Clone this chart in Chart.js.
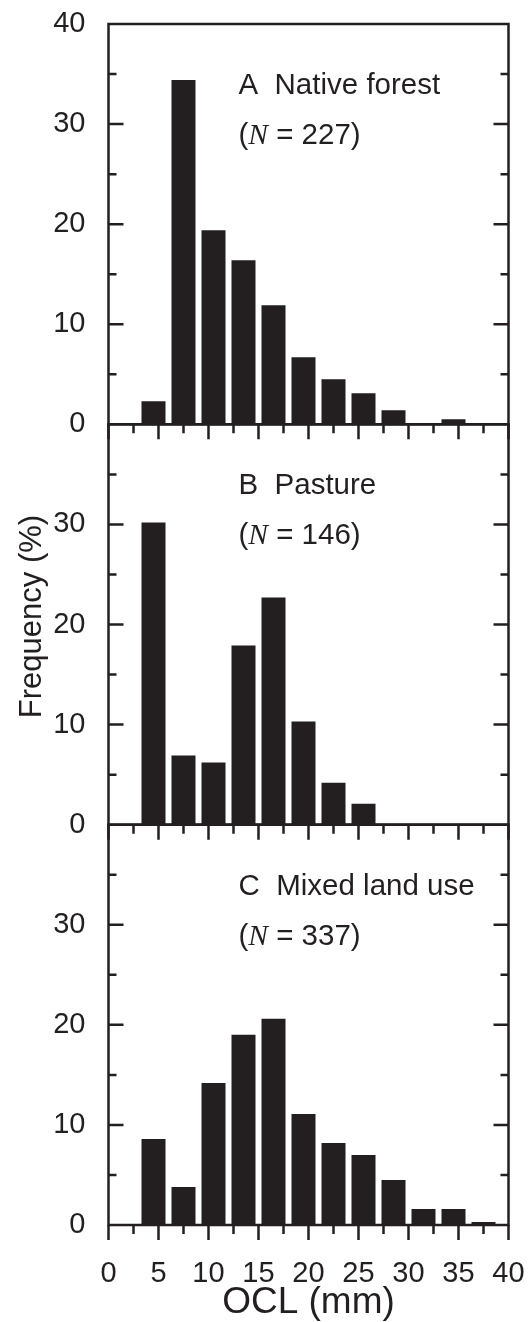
<!DOCTYPE html>
<html>
<head>
  <meta charset="utf-8">
  <title>OCL frequency by land use</title>
  <script src="https://cdn.jsdelivr.net/npm/chart.js"></script>
  <style>
    body { margin: 0; background: #fff; }
    #wrap { position: relative; width: 528px; height: 1322px; }
  </style>
</head>
<body>
<div id="wrap">
  <canvas id="chart" width="528" height="1322"></canvas>
</div>

<script>
  // Bin centres (mm) and frequencies (%) per panel
  const binCenters = [4.5, 7.5, 10.5, 13.5, 16.5, 19.5, 22.5, 25.5, 28.5, 31.5, 34.5, 37.5];
  const nativeForest = [2.3, 34.4, 19.4, 16.4, 11.9, 6.7, 4.5, 3.1, 1.4, 0, 0.5, 0];
  const pasture      = [30.2, 6.9, 6.2, 17.9, 22.7, 10.3, 4.2, 2.1, 0, 0, 0, 0];
  const mixedLandUse = [8.6, 3.8, 14.2, 19.0, 20.6, 11.1, 8.2, 7.0, 4.5, 1.6, 1.6, 0.3];

  const panelTitles = ['A  Native forest', 'B  Pasture', 'C  Mixed land use'];
  const panelN = ['227', '146', '337'];
  const xTickLabels = ['0', '5', '10', '15', '20', '25', '30', '35', '40'];

  const INK = '#231f20';
  const SANS = '"Liberation Sans", Arial, sans-serif';

  const toPoints = vals => vals.map((v, i) => ({ x: binCenters[i], y: v }));

  function yScale(weight, showTop) {
    return {
      type: 'linear',
      position: 'left',
      stack: 'panels',
      stackWeight: 1,
      weight: weight,
      min: 0,
      max: 40,
      grid: { display: false },
      border: { display: false },
      ticks: {
        stepSize: 10,
        padding: 15,
        color: INK,
        font: { family: SANS, size: 29 },
        callback: v => (v === 40 && !showTop) ? '' : String(v)
      },
      afterFit: s => { s.width = 108; s.paddingTop = 0; s.paddingBottom = 0; }
    };
  }

  // frames, inward/outward ticks, panel labels and the shared y title
  const decorations = {
    id: 'decorations',
    afterDraw(chart) {
      const ctx = chart.ctx;
      const x = chart.scales.x;
      const panels = ['yA', 'yB', 'yC'].map(id => chart.scales[id]);
      ctx.save();
      ctx.strokeStyle = INK;
      ctx.fillStyle = INK;
      ctx.lineWidth = 2.5;
      ctx.lineCap = 'butt';

      panels.forEach((ys, p) => {
        const top = ys.getPixelForValue(40);
        const bottom = ys.getPixelForValue(0);
        ctx.strokeRect(x.left, top, x.right - x.left, bottom - top);

        ctx.beginPath();
        for (let v = 5; v < 40; v += 5) {
          const py = ys.getPixelForValue(v);
          const len = v % 10 === 0 ? 15 : 8;
          ctx.moveTo(x.left, py); ctx.lineTo(x.left + len, py);
          ctx.moveTo(x.right, py); ctx.lineTo(x.right - len, py);
        }
        for (let v = 0; v <= 40; v += 2.5) {
          const px = x.getPixelForValue(v);
          const len = v % 5 === 0 ? 15 : 9;
          ctx.moveTo(px, bottom); ctx.lineTo(px, bottom + len);
        }
        ctx.stroke();

        // panel label
        const tx = x.left + 130;
        ctx.textAlign = 'left';
        ctx.textBaseline = 'alphabetic';
        ctx.font = '29.5px ' + SANS;
        ctx.fillText(panelTitles[p], tx, top + 70);
        let cx = tx;
        ctx.fillText('(', cx, top + 120);
        cx += ctx.measureText('(').width;
        ctx.font = 'italic 29.5px "Liberation Serif", "Times New Roman", serif';
        ctx.fillText('N', cx, top + 120);
        cx += ctx.measureText('N').width;
        ctx.font = '29.5px ' + SANS;
        ctx.fillText(' = ' + panelN[p] + ')', cx, top + 120);
      });

      // shared y-axis title
      ctx.translate(32.5, (chart.chartArea.top + chart.chartArea.bottom) / 2 - 8);
      ctx.rotate(-Math.PI / 2);
      ctx.textAlign = 'center';
      ctx.textBaseline = 'middle';
      ctx.font = '31px ' + SANS;
      ctx.fillText('Frequency (%)', 0, 0);
      ctx.restore();
    }
  };

  const barStyle = {
    backgroundColor: INK,
    borderWidth: 0,
    grouped: false,
    barPercentage: 0.8,
    categoryPercentage: 1
  };

  new Chart(document.getElementById('chart').getContext('2d'), {
    type: 'bar',
    data: {
      datasets: [
        Object.assign({ label: 'Native forest', data: toPoints(nativeForest), yAxisID: 'yA' }, barStyle),
        Object.assign({ label: 'Pasture', data: toPoints(pasture), yAxisID: 'yB' }, barStyle),
        Object.assign({ label: 'Mixed land use', data: toPoints(mixedLandUse), yAxisID: 'yC' }, barStyle)
      ]
    },
    options: {
      responsive: false,
      animation: false,
      devicePixelRatio: 1,
      layout: { padding: { top: 24, right: 19.5, left: 0.5, bottom: 0 } },
      plugins: { legend: { display: false }, tooltip: { enabled: false } },
      scales: {
        x: {
          type: 'linear',
          position: 'bottom',
          min: 0,
          max: 40,
          offset: false,
          grid: { display: false, offset: false },
          border: { display: false },
          ticks: {
            stepSize: 5,
            padding: 23.5,
            color: INK,
            font: { family: SANS, size: 29 },
            callback: (v) => xTickLabels[v / 5]
          },
          title: {
            display: true,
            text: 'OCL (mm)',
            color: INK,
            font: { family: SANS, size: 37, lineHeight: 1 },
            padding: { top: 0, bottom: 1 }
          },
          afterFit: s => { s.height = 97; s.paddingLeft = 0; s.paddingRight = 0; }
        },
        yA: yScale(3, true),
        yB: yScale(2, false),
        yC: yScale(1, false)
      }
    },
    plugins: [decorations]
  });
</script>
</body>
</html>
